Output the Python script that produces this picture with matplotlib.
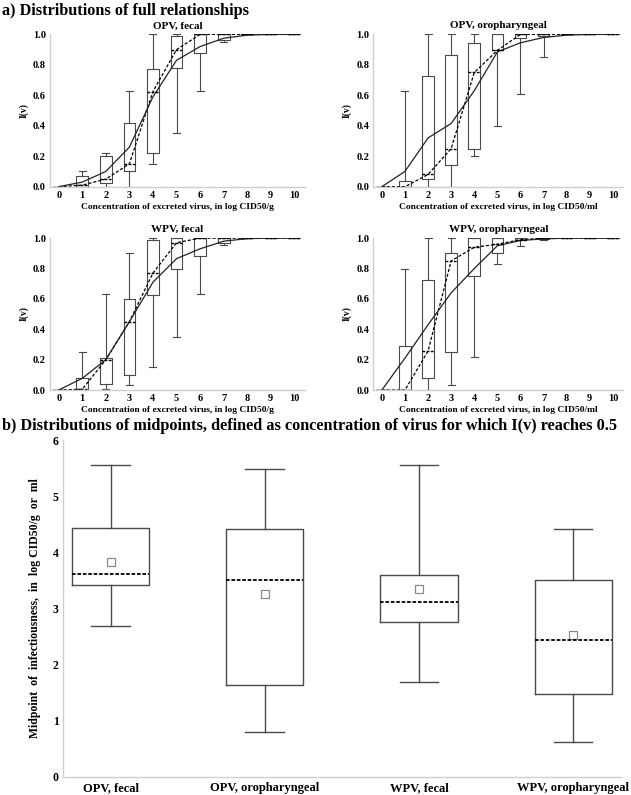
import matplotlib
matplotlib.use("Agg")
import matplotlib.pyplot as plt

plt.rcParams['font.family'] = ['Liberation Serif', 'DejaVu Serif']
plt.rcParams['font.weight'] = 'bold'

# concentration of excreted virus (log CID50)
conc = [0, 1, 2, 3, 4, 5, 6, 7, 8, 9, 10]

# panel a: box stats per concentration + fitted curve
opv_fecal_lo = [0, 0, 0, 0, 0.15, 0.35, 0.63, 0.95, 1, 1, 1]
opv_fecal_q1 = [0, 0, 0.026, 0.10, 0.22, 0.78, 0.88, 0.96, 1, 1, 1]
opv_fecal_med = [0, 0.01, 0.05, 0.15, 0.625, 0.90, 1.0, 1.0, 1, 1, 1]
opv_fecal_q3 = [0, 0.07, 0.20, 0.415, 0.77, 0.99, 1.0, 1.0, 1, 1, 1]
opv_fecal_hi = [0, 0.10, 0.22, 0.63, 1.0, 1.0, 1.0, 1.0, 1, 1, 1]
opv_fecal_fit = [0, 0.03, 0.10, 0.26, 0.59, 0.83, 0.92, 0.975, 0.995, 1.0, 1.0]

opv_oro_lo = [0, 0, 0, 0, 0.20, 0.40, 0.61, 0.85, 1, 1, 1]
opv_oro_q1 = [0, 0, 0.05, 0.14, 0.25, 0.895, 0.975, 0.99, 1, 1, 1]
opv_oro_med = [0, 0, 0.08, 0.25, 0.75, 0.895, 1.0, 1.0, 1, 1, 1]
opv_oro_q3 = [0, 0.04, 0.725, 0.862, 0.945, 1.0, 1.0, 1.0, 1, 1, 1]
opv_oro_hi = [0, 0.63, 1.0, 1.0, 1.0, 1.0, 1.0, 1.0, 1, 1, 1]
opv_oro_fit = [0, 0.10, 0.32, 0.415, 0.63, 0.885, 0.945, 0.98, 0.995, 1.0, 1.0]

wpv_fecal_lo = [0, 0, 0.01, 0.03, 0.15, 0.35, 0.63, 0.955, 1, 1, 1]
wpv_fecal_q1 = [0, 0, 0.037, 0.10, 0.625, 0.80, 0.88, 0.97, 1, 1, 1]
wpv_fecal_med = [0, 0.005, 0.20, 0.45, 0.77, 0.97, 1.0, 1.0, 1, 1, 1]
wpv_fecal_q3 = [0, 0.08, 0.208, 0.60, 0.99, 1.0, 1.0, 1.0, 1, 1, 1]
wpv_fecal_hi = [0, 0.25, 0.63, 0.90, 1.0, 1.0, 1.0, 1.0, 1, 1, 1]
wpv_fecal_fit = [0, 0.077, 0.20, 0.45, 0.71, 0.865, 0.93, 0.98, 0.997, 1.0, 1.0]

wpv_oro_lo = [0, 0, 0, 0.03, 0.22, 0.83, 0.95, 0.99, 1, 1, 1]
wpv_oro_q1 = [0, 0, 0.077, 0.248, 0.75, 0.90, 0.985, 0.995, 1, 1, 1]
wpv_oro_med = [0, 0, 0.257, 0.85, 0.94, 0.96, 0.99, 1.0, 1, 1, 1]
wpv_oro_q3 = [0, 0.288, 0.727, 0.90, 1.0, 1.0, 1.0, 1.0, 1, 1, 1]
wpv_oro_hi = [0, 0.80, 1.0, 1.0, 1.0, 1.0, 1.0, 1.0, 1, 1, 1]
wpv_oro_fit = [0, 0.21, 0.43, 0.64, 0.80, 0.95, 0.985, 0.995, 1.0, 1.0, 1.0]

# panel b: midpoints
groups = ['OPV, fecal', 'OPV, oropharyngeal', 'WPV, fecal', 'WPV, oropharyngeal']
mid_lo = [2.69, 0.80, 1.69, 0.62]
mid_q1 = [3.41, 1.63, 2.76, 1.48]
mid_med = [3.61, 3.51, 3.11, 2.44]
mid_q3 = [4.44, 4.41, 3.60, 3.51]
mid_hi = [5.55, 5.48, 5.55, 4.41]
mid_mean = [3.83, 3.25, 3.34, 2.53]

BOX = '#4a4a4a'
AXC = '#cfcfcf'


def make_stats(lo, q1, med, q3, hi):
    return [dict(whislo=a, q1=b, med=c, q3=d, whishi=e, fliers=[])
            for a, b, c, d, e in zip(lo, q1, med, q3, hi)]


def style_axes(ax):
    for s in ['top', 'right']:
        ax.spines[s].set_visible(False)
    for s in ['left', 'bottom']:
        ax.spines[s].set_color(AXC)
        ax.spines[s].set_linewidth(1.0)
    ax.tick_params(length=0)


def draw_curve(ax, title, xlabel, lo, q1, med, q3, hi, fit):
    ax.bxp(make_stats(lo, q1, med, q3, hi), positions=conc, widths=0.5,
           showfliers=False, capwidths=0.3, manage_ticks=False,
           boxprops=dict(color=BOX, linewidth=0.8),
           whiskerprops=dict(color=BOX, linewidth=0.8),
           capprops=dict(color=BOX, linewidth=0.8),
           medianprops=dict(color='black', linewidth=1.0, linestyle=(0, (2, 1))))
    ax.plot(conc, med, color='black', linewidth=0.9, linestyle=(0, (2.5, 1.5)))
    ax.plot(conc, fit, color='#222222', linewidth=0.9)
    ax.set_xlim(-0.37, 10.45)
    ax.set_ylim(0, 1.003)
    ax.set_xticks(conc)
    ax.set_yticks([0, 0.2, 0.4, 0.6, 0.8, 1.0])
    ax.set_yticklabels(['0.0', '0.2', '0.4', '0.6', '0.8', '1.0'])
    ax.tick_params(labelsize=7.5, pad=3)
    ax.set_title(title, fontsize=8, fontweight='bold', pad=4)
    ax.set_xlabel(xlabel, fontsize=6.8, fontweight='bold', labelpad=2)
    ax.set_ylabel('I(v)', fontsize=7, fontweight='bold', labelpad=3)
    for lab in ax.get_xticklabels() + ax.get_yticklabels():
        lab.set_fontweight('bold')
    style_axes(ax)


fig = plt.figure(figsize=(6.31, 7.95), dpi=100)

fig.text(0.003, 0.996, 'a) Distributions of full relationships',
         fontsize=11.7, fontweight='bold', va='top', ha='left')

xl_g = 'Concentration of excreted virus, in log CID50/g'
xl_ml = 'Concentration of excreted virus, in log CID50/ml'

ax1 = fig.add_axes([0.0792, 0.7652, 0.4041, 0.1921])
draw_curve(ax1, 'OPV, fecal', xl_g, opv_fecal_lo, opv_fecal_q1, opv_fecal_med,
           opv_fecal_q3, opv_fecal_hi, opv_fecal_fit)
ax2 = fig.add_axes([0.5916, 0.7652, 0.3962, 0.1921])
draw_curve(ax2, 'OPV, oropharyngeal', xl_ml, opv_oro_lo, opv_oro_q1, opv_oro_med,
           opv_oro_q3, opv_oro_hi, opv_oro_fit)
ax3 = fig.add_axes([0.0792, 0.5094, 0.4041, 0.1916])
draw_curve(ax3, 'WPV, fecal', xl_g, wpv_fecal_lo, wpv_fecal_q1, wpv_fecal_med,
           wpv_fecal_q3, wpv_fecal_hi, wpv_fecal_fit)
ax4 = fig.add_axes([0.5916, 0.5094, 0.3962, 0.1916])
draw_curve(ax4, 'WPV, oropharyngeal', xl_ml, wpv_oro_lo, wpv_oro_q1, wpv_oro_med,
           wpv_oro_q3, wpv_oro_hi, wpv_oro_fit)

fig.text(0.003, 0.4745,
         'b) Distributions of midpoints, defined as concentration of virus for which I(v) reaches 0.5',
         fontsize=11.7, fontweight='bold', va='top', ha='left')

axb = fig.add_axes([0.0994, 0.0230, 0.8848, 0.4235])
pos = list(range(len(groups)))
axb.bxp(make_stats(mid_lo, mid_q1, mid_med, mid_q3, mid_hi), positions=pos,
        widths=0.5, showfliers=False, capwidths=0.25, manage_ticks=False,
        boxprops=dict(color=BOX, linewidth=1.0),
        whiskerprops=dict(color=BOX, linewidth=1.0),
        capprops=dict(color=BOX, linewidth=1.0),
        medianprops=dict(color='black', linewidth=1.3, linestyle=(0, (2, 1))))
axb.plot(pos, mid_mean, linestyle='none', marker='s', markersize=6,
         markerfacecolor='none', markeredgecolor='#8a8a8a', markeredgewidth=0.9)
axb.set_xlim(-0.31, 3.31)
axb.set_ylim(0, 6)
axb.set_xticks(pos)
axb.set_xticklabels(groups)
axb.set_yticks(range(7))
axb.tick_params(axis='x', labelsize=9, pad=4)
axb.tick_params(axis='y', labelsize=8.5, pad=3)
for lab in axb.get_xticklabels() + axb.get_yticklabels():
    lab.set_fontweight('bold')
axb.set_ylabel('Midpoint  of  infectiousness,  in  log CID50/g  or  ml',
               fontsize=8.5, fontweight='bold', labelpad=8)
style_axes(axb)

fig.savefig('out.png', dpi=100)
